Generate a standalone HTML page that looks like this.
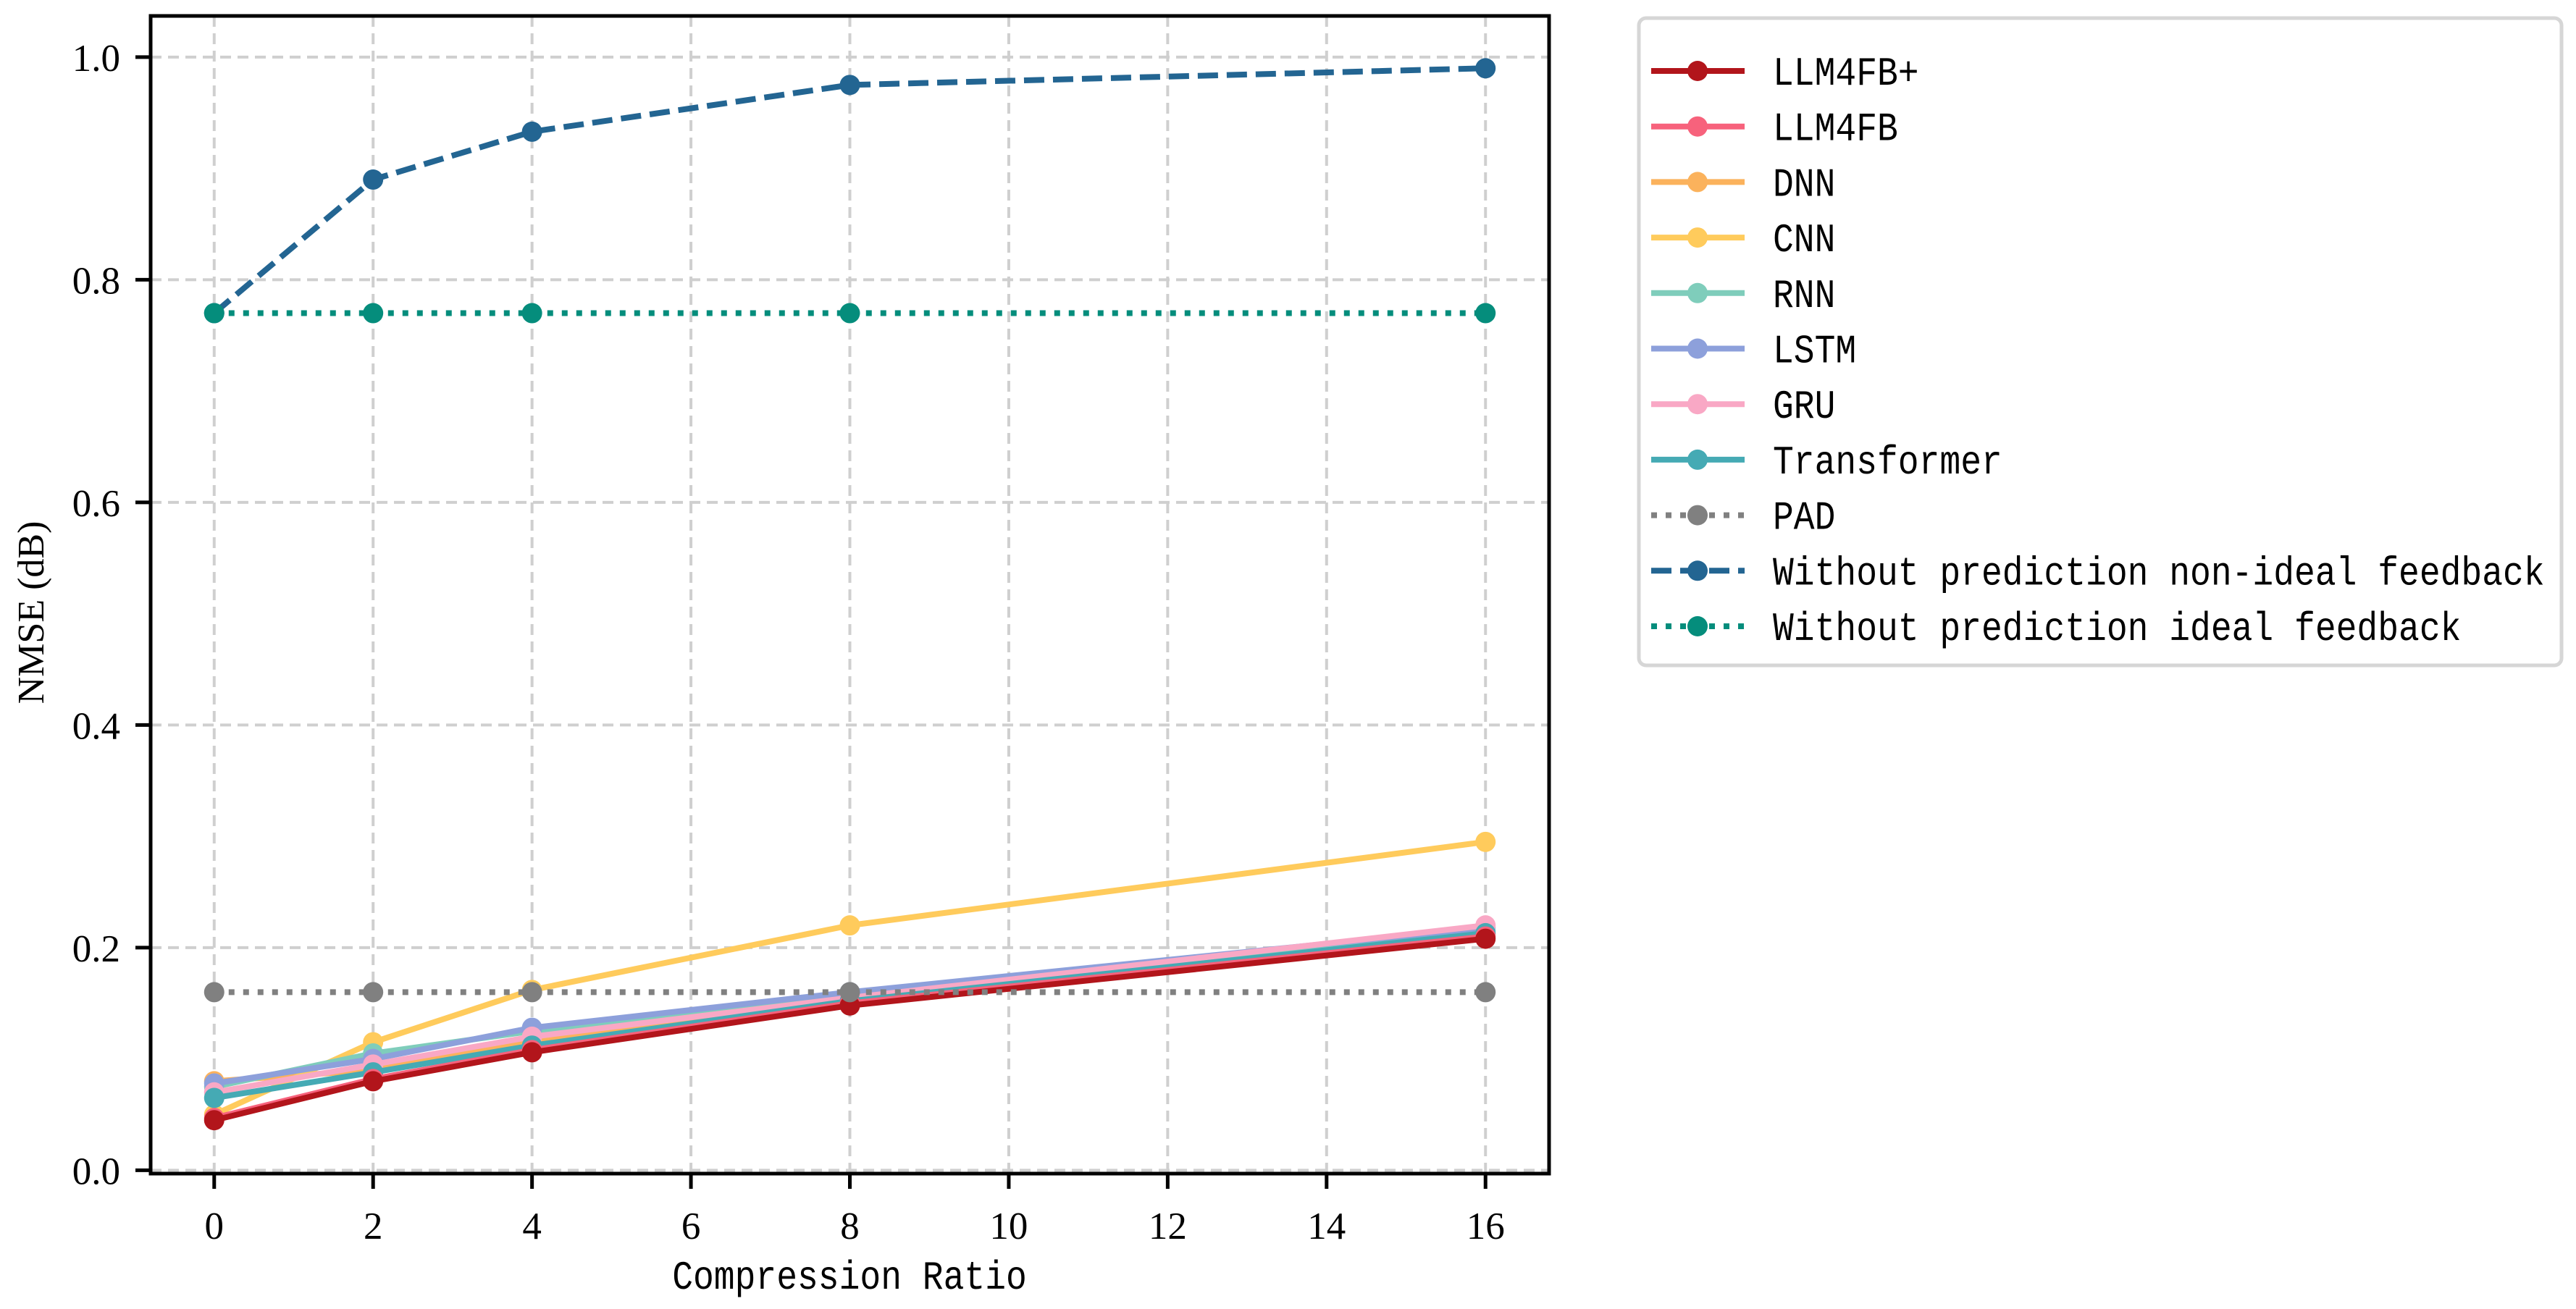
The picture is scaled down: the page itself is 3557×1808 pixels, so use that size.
<!DOCTYPE html>
<html><head><meta charset="utf-8"><style>
html,body{margin:0;padding:0;background:#fff;}
svg{display:block;}
</style></head><body>
<svg id="chart" width="3557" height="1808" viewBox="0 0 3557 1808" xmlns="http://www.w3.org/2000/svg">
<rect x="0" y="0" width="3557" height="1808" fill="#fff"/>
<g id="grid"></g>
<g id="series"></g>
<g id="axes"></g>
<g id="legend"></g>
</svg>
<script>
const xValues = [0, 2, 4, 8, 16];
const xTicks = [0, 2, 4, 6, 8, 10, 12, 14, 16];
const yTicks = [0.0, 0.2, 0.4, 0.6, 0.8, 1.0];
const yTickLabels = ["0.0", "0.2", "0.4", "0.6", "0.8", "1.0"];
const seriesNames = ["LLM4FB+", "LLM4FB", "DNN", "CNN", "RNN", "LSTM", "GRU", "Transformer", "PAD", "Without prediction non-ideal feedback", "Without prediction ideal feedback"];
const llm4fbPlus = [0.045, 0.080, 0.106, 0.148, 0.208];
const llm4fb = [0.047, 0.082, 0.108, 0.150, 0.210];
const dnn = [0.080, 0.090, 0.115, 0.152, 0.212];
const cnn = [0.050, 0.115, 0.162, 0.220, 0.295];
const rnn = [0.075, 0.105, 0.125, 0.158, 0.215];
const lstm = [0.078, 0.100, 0.128, 0.160, 0.218];
const gru = [0.070, 0.095, 0.120, 0.155, 0.220];
const transformer = [0.065, 0.088, 0.112, 0.152, 0.213];
const pad = [0.160, 0.160, 0.160, 0.160, 0.160];
const nonIdeal = [0.770, 0.890, 0.933, 0.975, 0.990];
const ideal = [0.770, 0.770, 0.770, 0.770, 0.770];

const NS = "http://www.w3.org/2000/svg";
const L = 208, R = 2139, T = 22, B = 1621;
const xMin = -0.8, xMax = 16.8, yMin = -0.003, yMax = 1.037;
function xs(v){ return L + (v - xMin) / (xMax - xMin) * (R - L); }
function ys(v){ return B - (v - yMin) / (yMax - yMin) * (B - T); }
function mk(tag, attrs, parent){ const e = document.createElementNS(NS, tag); for (const k in attrs) e.setAttribute(k, attrs[k]); parent.appendChild(e); return e; }

const grid = document.getElementById('grid');
const series = document.getElementById('series');
const axes = document.getElementById('axes');
const legend = document.getElementById('legend');

xTicks.forEach(t => {
  const g = mk('line', {x1: xs(t), x2: xs(t), y1: T, y2: B, stroke: '#cfcfcf', 'stroke-width': 4, 'stroke-dasharray': '15 9'}, grid);
  
  
});
yTicks.forEach(t => {
  const g = mk('line', {x1: L, x2: R, y1: ys(t), y2: ys(t), stroke: '#cfcfcf', 'stroke-width': 4, 'stroke-dasharray': '15 9'}, grid);
  
  
});

const styles = [
  {data: llm4fbPlus, color: '#b2151b', dash: null, name: 'series-llm4fb-plus'},
  {data: llm4fb, color: '#f7627c', dash: null, name: 'series-llm4fb'},
  {data: dnn, color: '#fbb25c', dash: null, name: 'series-dnn'},
  {data: cnn, color: '#ffcb5c', dash: null, name: 'series-cnn'},
  {data: rnn, color: '#7fcdbb', dash: null, name: 'series-rnn'},
  {data: lstm, color: '#8da0db', dash: null, name: 'series-lstm'},
  {data: gru, color: '#f9a8c5', dash: null, name: 'series-gru'},
  {data: transformer, color: '#45aab4', dash: null, name: 'series-transformer'},
  {data: pad, color: '#808080', dash: '8 12', name: 'series-pad'},
  {data: nonIdeal, color: '#236592', dash: '28 12', name: 'series-non-ideal-feedback'},
  {data: ideal, color: '#058d7c', dash: '8 12', name: 'series-ideal-feedback'}
];
const drawOrder = [2, 3, 4, 5, 6, 7, 1, 0, 8, 9, 10];
drawOrder.forEach(i => {
  const s = styles[i];
  const g = mk('g', {}, series);
  
  
  const pts = s.data.map((v, j) => xs(xValues[j]) + ',' + ys(v)).join(' ');
  const a = {points: pts, fill: 'none', stroke: s.color, 'stroke-width': 8, 'stroke-linejoin': 'round'};
  if (s.dash) a['stroke-dasharray'] = s.dash;
  const pl = mk('polyline', a, g);
  
  
  s.data.forEach((v, j) => {
    const c = mk('circle', {cx: xs(xValues[j]), cy: ys(v), r: 14, fill: s.color}, g);
    
    
  });
});

const frame = mk('rect', {x: L, y: T, width: R - L, height: B - T, fill: 'none', stroke: '#000', 'stroke-width': 5}, axes);


xTicks.forEach(t => {
  const tk = mk('line', {x1: xs(t), x2: xs(t), y1: B, y2: B + 21, stroke: '#000', 'stroke-width': 5}, axes);
  
  
  const tx = mk('text', {x: xs(t), y: B + 90, 'text-anchor': 'middle', 'font-family': '"Liberation Serif", serif', 'font-size': 53, fill: '#000'}, axes);
  tx.textContent = String(t);
  
  
});
yTicks.forEach((t, i) => {
  const tk = mk('line', {x1: L - 21, x2: L, y1: ys(t), y2: ys(t), stroke: '#000', 'stroke-width': 5}, axes);
  
  
  const tx = mk('text', {x: L - 42, y: ys(t) + 19, 'text-anchor': 'end', 'font-family': '"Liberation Serif", serif', 'font-size': 53, fill: '#000'}, axes);
  tx.textContent = yTickLabels[i];
  
  
});
const xt = mk('text', {x: 0, y: 0, 'text-anchor': 'middle', 'font-family': '"Liberation Mono", monospace', 'font-size': 48, fill: '#000', transform: 'translate(1173,1780) scale(1,1.15)'}, axes);
xt.textContent = 'Compression Ratio';


const yt = mk('text', {x: 0, y: 0, 'text-anchor': 'middle', 'font-family': '"Liberation Serif", serif', 'font-size': 52, fill: '#000', transform: 'translate(60,846) rotate(-90)'}, axes);
yt.textContent = 'NMSE (dB)';



const lb = mk('rect', {x: 2263, y: 25, width: 1274, height: 894, rx: 10, fill: '#fff', stroke: '#d6d6d6', 'stroke-width': 5}, legend);


seriesNames.forEach((n, i) => {
  const s = styles[i];
  const y = 98 + i * 76.7;
  const g = mk('g', {}, legend);
  
  
  const a = {x1: 2280, x2: 2409, y1: y, y2: y, stroke: s.color, 'stroke-width': 8};
  if (s.dash) a['stroke-dasharray'] = s.dash;
  const ln = mk('line', a, g);
  
  
  const c = mk('circle', {cx: 2344, cy: y, r: 14, fill: s.color}, g);
  
  
  const tx = mk('text', {x: 0, y: 0, 'font-family': '"Liberation Mono", monospace', 'font-size': 48, fill: '#000', transform: 'translate(2448,' + (y + 19) + ') scale(1,1.15)'}, g);
  tx.textContent = n;
  
  
});
</script>
</body></html>
